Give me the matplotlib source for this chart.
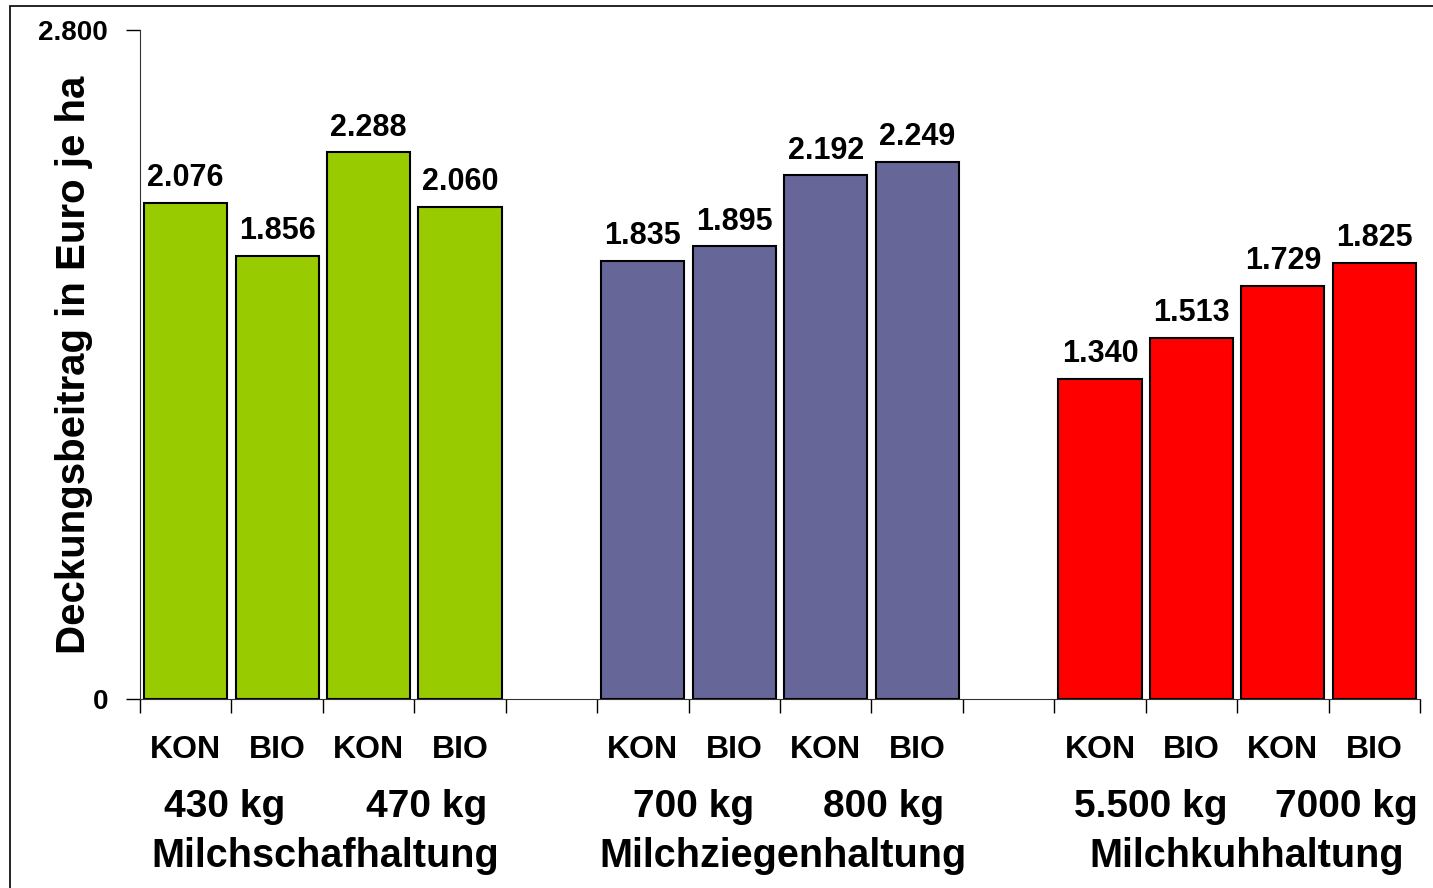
import matplotlib
matplotlib.use('Agg')
import matplotlib.pyplot as plt
from matplotlib.patches import Rectangle
import numpy as np

# data
positions = [0, 1, 2, 3, 5, 6, 7, 8, 10, 11, 12, 13]
values = [2076, 1856, 2288, 2060, 1835, 1895, 2192, 2249, 1340, 1513, 1729, 1825]
bar_labels = ['KON', 'BIO'] * 6
group_colors = ['#99CC00'] * 4 + ['#666699'] * 4 + ['#FF0000'] * 4
weights = ['430 kg', '470 kg', '700 kg', '800 kg', '5.500 kg', '7000 kg']
weight_pos = [0.43, 2.64, 5.55, 7.63, 10.56, 12.7]
groups = ['Milchschafhaltung', 'Milchziegenhaltung', 'Milchkuhhaltung']
group_pos = [1.53, 6.53, 11.6]

plt.rcParams['font.family'] = ['Liberation Sans', 'DejaVu Sans']
plt.rcParams['font.weight'] = 'bold'


def fmt(v):
    return f'{v:,}'.replace(',', '.')


fig = plt.figure(figsize=(14.33, 8.88), dpi=100)
ax = fig.add_axes([140 / 1433, 1 - 699 / 888, 1280 / 1433, 669 / 888])

ax.bar(positions, values, width=0.91, color=group_colors, edgecolor='black', linewidth=1.5)
for x, v in zip(positions, values):
    ax.text(x, v + 40, fmt(v), ha='center', va='bottom', fontsize=22, fontweight='bold')

ax.set_xlim(-0.5, 13.5)
ax.set_ylim(0, 2800)
ax.set_yticks([0, 2800])
ax.set_yticklabels(['0', '2.800'], fontsize=20, fontweight='bold')
ax.tick_params(axis='y', length=10, width=1, pad=13)

# tick marks at slot boundaries, labels at bar centres
ax.set_xticks(np.arange(-0.5, 14, 1))
ax.set_xticklabels([])
ax.tick_params(axis='x', which='major', length=10, width=1, direction='out')
ax.set_xticks(positions, minor=True)
ax.set_xticklabels(bar_labels, minor=True, fontsize=23, fontweight='bold')
ax.tick_params(axis='x', which='minor', length=0, pad=26)

for s in ['top', 'right']:
    ax.spines[s].set_visible(False)
ax.spines['left'].set_color('#333333')
ax.spines['bottom'].set_color('#333333')

ax.set_ylabel('Deckungsbeitrag in Euro je ha', fontsize=29, fontweight='bold')
ax.yaxis.set_label_coords(-0.037, 0.5)

for w, x in zip(weights, weight_pos):
    ax.text(x, -0.161, w, transform=ax.get_xaxis_transform(), ha='center', va='center',
            fontsize=28, fontweight='bold')
for g, x in zip(groups, group_pos):
    ax.text(x, -0.234, g, transform=ax.get_xaxis_transform(), ha='center', va='center',
            fontsize=28.5, fontweight='bold')

# outer frame
fig.patches.append(Rectangle((10 / 1433, -0.05), 1.0, 1.05 - 6 / 888, transform=fig.transFigure,
                             fill=False, edgecolor='black', linewidth=1.2))

fig.savefig('out.png', dpi=100)
